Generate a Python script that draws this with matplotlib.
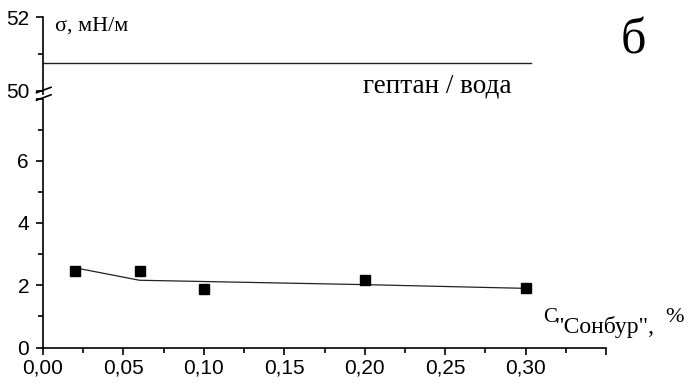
import matplotlib
matplotlib.use("Agg")
import matplotlib.pyplot as plt
from matplotlib.lines import Line2D
from matplotlib.ticker import MultipleLocator, FuncFormatter

# measured interfacial tension, heptane / water with "Сонбур"
conc = [0.02, 0.06, 0.10, 0.20, 0.30]
sigma = [2.45, 2.45, 1.89, 2.18, 1.91]

# smoothed curve through the points
fit_x = [0.02, 0.06, 0.10, 0.20, 0.25, 0.30]
fit_y = [2.56, 2.16, 2.12, 2.02, 1.96, 1.90]

# reference level: heptane / water without additive
ref_x = [0.0, 0.3035]
ref_y = [50.75, 50.75]

SANS = ["Liberation Sans", "DejaVu Sans"]
SERIF = ["Liberation Serif", "DejaVu Serif"]
plt.rcParams["font.family"] = SANS

W, H = 696, 389
fig = plt.figure(figsize=(W / 100, H / 100), dpi=100)
fig.patch.set_facecolor("white")


def fx(px):
    return px / W


def fy(py):
    return 1 - py / H


left, right = 43, 606
ax_lo = fig.add_axes([fx(left), fy(347.5), fx(right - left), fy(98.5) - fy(347.5)])
ax_hi = fig.add_axes([fx(left), fy(94.4), fx(right - left), fy(17.3) - fy(94.4)], sharex=ax_lo)

lw = 1.2
for ax in (ax_lo, ax_hi):
    ax.spines["top"].set_visible(False)
    ax.spines["right"].set_visible(False)
    ax.spines["left"].set_linewidth(lw)
    ax.spines["bottom"].set_linewidth(lw)
    ax.tick_params(which="major", direction="out", length=5, width=lw, labelsize=15, pad=3)
    ax.tick_params(which="minor", direction="out", length=3.5, width=lw)
    ax.tick_params(axis="y", which="major", pad=5)
    ax.patch.set_alpha(0)

ax_hi.spines["bottom"].set_visible(False)
ax_hi.tick_params(axis="x", which="both", bottom=False, labelbottom=False)

ax_lo.set_xlim(0, 0.35)
ax_lo.set_ylim(0, 8.0)
ax_hi.set_ylim(49.9, 52)

ax_lo.xaxis.set_major_locator(MultipleLocator(0.05))
ax_lo.xaxis.set_minor_locator(MultipleLocator(0.025))
ax_lo.xaxis.set_major_formatter(FuncFormatter(
    lambda v, p: f"{v:.2f}".replace(".", ",") if v < 0.34 else ""))
ax_lo.yaxis.set_major_locator(MultipleLocator(2))
ax_lo.yaxis.set_minor_locator(MultipleLocator(1))
ax_lo.yaxis.set_major_formatter(FuncFormatter(lambda v, p: f"{v:.0f}" if v < 7 else ""))
ax_hi.yaxis.set_major_locator(MultipleLocator(2))
ax_hi.yaxis.set_minor_locator(MultipleLocator(1))
ax_hi.yaxis.set_major_formatter(FuncFormatter(lambda v, p: f"{v:.0f}"))

ax_lo.plot(fit_x, fit_y, color="#222222", lw=0.9)
ax_lo.plot(conc, sigma, ls="none", marker="s", ms=6.5, color="black")
ax_hi.plot(ref_x, ref_y, color="#222222", lw=1.0)

# axis break marks
for y0 in (90.0, 97.5):
    fig.add_artist(Line2D([fx(36.5), fx(51)], [fy(y0 + 2.7), fy(y0 - 2.7)],
                          color="black", lw=lw))

fig.text(fx(55), fy(26), "σ, мН/м", family=SERIF, fontsize=16, va="center", ha="left")
fig.text(fx(363), fy(86), "гептан / вода", family=SERIF, fontsize=19.5, va="center", ha="left")
fig.text(fx(633), fy(41), "б", family=SERIF, fontsize=36, va="center", ha="center")

fig.text(fx(543), fy(317), "C", family=SERIF, fontsize=15, va="center", ha="left")
fig.text(fx(555), fy(327), "\"Сонбур\",", family=SERIF, fontsize=17, va="center", ha="left")
fig.text(fx(665), fy(317), "%", family=SERIF, fontsize=16, va="center", ha="left")

fig.savefig("out.png", dpi=100, facecolor="white")
